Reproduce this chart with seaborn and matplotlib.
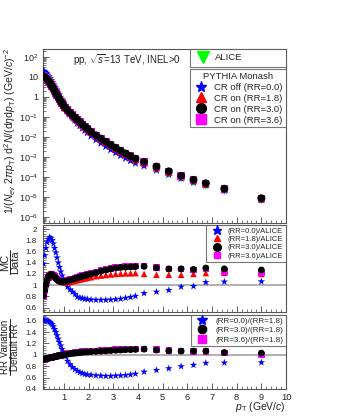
import math
import pandas as pd
import seaborn as sns
import matplotlib.pyplot as plt
from matplotlib.lines import Line2D
from matplotlib.ticker import MultipleLocator, AutoMinorLocator, LogLocator, NullFormatter, FuncFormatter

# pT bin centres (GeV/c)
pt = [0.175, 0.225, 0.275, 0.325, 0.375, 0.425, 0.475, 0.525, 0.575, 0.625,
      0.675, 0.725, 0.775, 0.825, 0.875, 0.925, 0.975,
      1.05, 1.15, 1.25, 1.35, 1.45, 1.55, 1.65, 1.75, 1.85, 1.95,
      2.1, 2.3, 2.5, 2.7, 2.9, 3.1, 3.3, 3.5, 3.7, 3.9,
      4.25, 4.75, 5.25, 5.75, 6.25, 6.75, 7.5, 9.0]

# ALICE invariant yield
alice = [13.5, 10.9, 8.7, 6.9, 5.5, 4.4, 3.5, 2.75, 2.2, 1.74,
         1.38, 1.10, 0.88, 0.70, 0.56, 0.45, 0.36,
         0.27, 0.20, 0.148, 0.110, 0.082, 0.062, 0.047, 0.036, 0.028, 0.0218,
         0.0150, 0.0098, 0.0066, 0.0045, 0.0031, 0.00218, 0.00155, 0.00112, 0.00082, 0.00061,
         0.00042, 0.00025, 0.000148, 0.000088, 0.000056, 0.000037, 0.000020, 0.0000068]

# MC / ALICE
r_rr00 = [1.38, 1.53, 1.66, 1.76, 1.82, 1.85, 1.84, 1.80, 1.74, 1.66,
          1.58, 1.49, 1.40, 1.32, 1.24, 1.17, 1.11,
          1.04, 0.97, 0.92, 0.88, 0.84, 0.79, 0.775, 0.765, 0.755, 0.75,
          0.74, 0.735, 0.735, 0.735, 0.74, 0.745, 0.755, 0.77, 0.785, 0.805,
          0.855, 0.88, 0.91, 0.97, 0.98, 1.05, 1.06, 1.065]
r_rr18 = [0.80, 0.90, 1.00, 1.08, 1.15, 1.19, 1.21, 1.21, 1.19, 1.17,
          1.14, 1.12, 1.10, 1.08, 1.07, 1.06, 1.055,
          1.05, 1.055, 1.06, 1.07, 1.08, 1.09, 1.10, 1.11, 1.12, 1.13,
          1.14, 1.16, 1.17, 1.18, 1.19, 1.20, 1.205, 1.21, 1.21, 1.215,
          1.20, 1.185, 1.185, 1.185, 1.20, 1.215, 1.22, 1.20]
r_rr30 = [0.81, 0.91, 1.01, 1.09, 1.15, 1.18, 1.19, 1.185, 1.17, 1.15,
          1.12, 1.10, 1.085, 1.07, 1.065, 1.06, 1.06,
          1.065, 1.075, 1.09, 1.10, 1.12, 1.13, 1.145, 1.16, 1.17, 1.185,
          1.20, 1.22, 1.25, 1.27, 1.29, 1.305, 1.315, 1.32, 1.325, 1.33,
          1.335, 1.31, 1.29, 1.29, 1.28, 1.305, 1.29, 1.27]
r_rr36 = [0.80, 0.90, 1.00, 1.08, 1.14, 1.18, 1.19, 1.19, 1.175, 1.155,
          1.13, 1.11, 1.095, 1.08, 1.075, 1.07, 1.07,
          1.075, 1.085, 1.10, 1.11, 1.13, 1.14, 1.155, 1.17, 1.18, 1.195,
          1.21, 1.23, 1.26, 1.28, 1.30, 1.315, 1.325, 1.33, 1.335, 1.34,
          1.34, 1.315, 1.29, 1.29, 1.27, 1.29, 1.24, 1.22]

# RR variation / default RR (=1.8)
v_rr00 = [1.60, 1.61, 1.61, 1.60, 1.59, 1.575, 1.56, 1.535, 1.50, 1.45,
          1.40, 1.34, 1.28, 1.22, 1.16, 1.10, 1.04,
          0.97, 0.89, 0.83, 0.78, 0.745, 0.715, 0.69, 0.675, 0.66, 0.65,
          0.645, 0.635, 0.63, 0.625, 0.625, 0.63, 0.635, 0.64, 0.65, 0.665,
          0.70, 0.73, 0.76, 0.795, 0.82, 0.855, 0.86, 0.865]
v_rr30 = [0.92, 0.925, 0.93, 0.935, 0.94, 0.945, 0.95, 0.955, 0.96, 0.965,
          0.97, 0.975, 0.98, 0.985, 0.99, 0.995, 1.00,
          1.005, 1.01, 1.02, 1.025, 1.03, 1.035, 1.04, 1.045, 1.05, 1.05,
          1.055, 1.06, 1.065, 1.07, 1.075, 1.08, 1.085, 1.09, 1.09, 1.095,
          1.10, 1.085, 1.07, 1.065, 1.065, 1.065, 1.04, 1.03]
v_rr36 = [0.91, 0.915, 0.925, 0.93, 0.94, 0.945, 0.95, 0.955, 0.96, 0.965,
          0.97, 0.975, 0.98, 0.985, 0.99, 0.995, 1.005,
          1.015, 1.02, 1.03, 1.035, 1.04, 1.045, 1.05, 1.055, 1.06, 1.06,
          1.065, 1.07, 1.075, 1.08, 1.085, 1.09, 1.095, 1.10, 1.10, 1.105,
          1.105, 1.09, 1.075, 1.065, 1.06, 1.06, 1.03, 0.995]

df = pd.DataFrame({'pt': pt, 'alice': alice,
                   'r00': r_rr00, 'r18': r_rr18, 'r30': r_rr30, 'r36': r_rr36,
                   'v00': v_rr00, 'v30': v_rr30, 'v36': v_rr36})
df['mc00'] = df['alice'] * df['r00']
df['mc18'] = df['alice'] * df['r18']
df['mc30'] = df['alice'] * df['r30']
df['mc36'] = df['alice'] * df['r36']

sns.set_style('ticks')
plt.rcParams['font.family'] = ['Liberation Sans', 'DejaVu Sans']
plt.rcParams['mathtext.fontset'] = 'custom'
plt.rcParams['mathtext.rm'] = 'Liberation Sans'
plt.rcParams['mathtext.it'] = 'Liberation Sans:italic'
plt.rcParams['mathtext.sf'] = 'Liberation Sans'

GREEN, BLUE, RED, BLACK, MAG = '#00ff00', '#0000ff', '#ff0000', '#000000', '#ff00ff'
TXT = '#222222'

fig = plt.figure(figsize=(3.43, 4.20), dpi=100)
ax1 = fig.add_axes([0.125, 0.469, 0.709, 0.414])
ax2 = fig.add_axes([0.125, 0.257, 0.709, 0.207])
ax3 = fig.add_axes([0.125, 0.074, 0.709, 0.176])


def sc(ax, y, marker, color, s):
    sns.scatterplot(data=df, x='pt', y=y, ax=ax, marker=marker, color=color,
                    s=s, edgecolor='none', linewidth=0, legend=False, zorder=3)


# spectra
sc(ax1, 'alice', 'v', GREEN, 38)
sc(ax1, 'mc00', '*', BLUE, 45)
sc(ax1, 'mc18', '^', RED, 30)
sc(ax1, 'mc36', 's', MAG, 28)
sc(ax1, 'mc30', 'o', BLACK, 32)
ax1.set_yscale('log')
ax1.set_ylim(5e-7, 240)

# MC / data
ax2.axhline(1, color='#aaaaaa', lw=1.3, zorder=1)
sc(ax2, 'r00', '*', BLUE, 32)
sc(ax2, 'r18', '^', RED, 22)
sc(ax2, 'r36', 's', MAG, 22)
sc(ax2, 'r30', 'o', BLACK, 24)
ax2.set_ylim(0.52, 2.07)

# RR variation
ax3.axhline(1, color='#aaaaaa', lw=1.3, zorder=1)
sc(ax3, 'v00', '*', BLUE, 32)
sc(ax3, 'v36', 's', MAG, 22)
sc(ax3, 'v30', 'o', BLACK, 24)
ax3.set_ylim(0.4, 1.7)


def logfmt(v, _):
    e = int(round(math.log10(v)))
    if e == 0:
        return '1'
    if e == 1:
        return '10'
    return r'$10^{%d}$' % e


ax1.yaxis.set_major_locator(LogLocator(base=10, numticks=20))
ax1.yaxis.set_minor_locator(LogLocator(base=10, subs=range(2, 10), numticks=20))
ax1.yaxis.set_minor_formatter(NullFormatter())
ax1.yaxis.set_major_formatter(FuncFormatter(logfmt))

for ax in (ax2, ax3):
    ax.yaxis.set_major_locator(MultipleLocator(0.2))
    ax.yaxis.set_minor_locator(AutoMinorLocator(5))
    ax.yaxis.set_major_formatter(FuncFormatter(lambda v, _: '%g' % round(v, 1)))

for ax in (ax1, ax2, ax3):
    ax.set_xlim(0.15, 10)
    ax.xaxis.set_major_locator(MultipleLocator(1))
    ax.xaxis.set_minor_locator(MultipleLocator(0.2))
    ax.set_xlabel('')
    ax.set_ylabel('')
    ax.tick_params(which='both', direction='in', top=False, right=False,
                   colors='#444444', labelcolor=TXT)
    ax.tick_params(which='major', length=4, width=0.6)
    ax.tick_params(which='minor', length=2, width=0.5)
    for sp in ax.spines.values():
        sp.set_color('#555555')
        sp.set_linewidth(0.8)
ax1.tick_params(axis='y', labelsize=6.5, pad=3.5)
ax2.tick_params(axis='y', labelsize=5.8, pad=4.5)
ax3.tick_params(axis='y', labelsize=5.8, pad=4.5)
ax3.tick_params(axis='x', labelsize=6.7, pad=3)
for ax in (ax1, ax2):
    ax.tick_params(labelbottom=False)
ax3.xaxis.set_major_formatter(FuncFormatter(lambda v, _: '%d' % v if v >= 1 else ''))


# legends
def mk(marker, color, ms):
    return Line2D([], [], marker=marker, color=color, linestyle='none', markersize=ms)


def frame(lg):
    lg.get_frame().set_edgecolor('#555555')
    lg.get_frame().set_linewidth(0.8)


leg_kw = dict(mode='expand', borderaxespad=0, frameon=True, fancybox=False)

lg1 = ax1.legend([mk('v', GREEN, 8)], ['ALICE'], loc='upper left',
                 bbox_to_anchor=(0.605, 0.0, 0.395, 1.0), fontsize=6.8,
                 handlelength=1.8, handletextpad=0.4, borderpad=0.45, **leg_kw)
frame(lg1)
ax1.add_artist(lg1)

lg2 = ax1.legend([mk('*', BLUE, 8), mk('^', RED, 6.5), mk('o', BLACK, 7), mk('s', MAG, 6.5)],
                 ['CR off (RR=0.0)', 'CR on (RR=1.8)', 'CR on (RR=3.0)', 'CR on (RR=3.6)'],
                 loc='upper left', bbox_to_anchor=(0.605, 0.0, 0.395, 0.885),
                 title='PYTHIA Monash', title_fontsize=6.8, fontsize=6.8,
                 handlelength=1.8, handletextpad=0.4, borderpad=0.3,
                 labelspacing=0.2, **leg_kw)
frame(lg2)

lg3 = ax2.legend([mk('*', BLUE, 6.5), mk('^', RED, 5), mk('o', BLACK, 5.5), mk('s', MAG, 5)],
                 ['(RR=0.0)/ALICE', '(RR=1.8)/ALICE', '(RR=3.0)/ALICE', '(RR=3.6)/ALICE'],
                 loc='upper left', bbox_to_anchor=(0.671, 0.0, 0.329, 1.0), fontsize=5.5,
                 handlelength=2.3, handletextpad=0.2, borderpad=0.3,
                 labelspacing=0.12, **leg_kw)
frame(lg3)

lg4 = ax3.legend([mk('*', BLUE, 7), mk('o', BLACK, 6), mk('s', MAG, 5.5)],
                 ['(RR=0.0)/(RR=1.8)', '(RR=3.0)/(RR=1.8)', '(RR=3.6)/(RR=1.8)'],
                 loc='upper left', bbox_to_anchor=(0.609, 0.0, 0.391, 1.0), fontsize=5.8,
                 handlelength=2.15, handletextpad=0.55, borderpad=0.3,
                 labelspacing=0.2, **leg_kw)
frame(lg4)

# texts
ax1.text(0.125, 0.935, r'pp, $\sqrt{s}$=13 TeV, INEL>0', transform=ax1.transAxes,
         fontsize=7, va='center', ha='left', color=TXT)
fig.text(0.028, 0.688,
         r'$1/(N_{ev}\ 2\pi p_{\rm T})\ {\rm d}^{2}N/({\rm d}\eta {\rm d}p_{\rm T})\ ({\rm GeV}/c)^{-2}$',
         rotation=90, fontsize=7.6, ha='center', va='center', color=TXT)

# fraction-style y titles for the ratio panels
fig.text(0.016, 0.376, 'MC', rotation=90, fontsize=8, ha='center', va='center', color=TXT)
fig.text(0.044, 0.376, 'Data', rotation=90, fontsize=8, ha='center', va='center', color=TXT)
fig.add_artist(Line2D([0.030, 0.030], [0.347, 0.405], transform=fig.transFigure,
                      color=TXT, lw=0.7))
fig.text(0.016, 0.174, 'RR Variation', rotation=90, fontsize=7, ha='center', va='center',
         color=TXT)
fig.text(0.044, 0.174, 'Default RR', rotation=90, fontsize=7, ha='center', va='center',
         color=TXT)
fig.add_artist(Line2D([0.030, 0.030], [0.107, 0.241], transform=fig.transFigure,
                      color=TXT, lw=0.7))

fig.text(0.834, 0.031, r'$p_{\rm T}$ (GeV/$c$)', fontsize=7.5, ha='right', va='center',
         color=TXT)

fig.savefig('out.png', dpi=100)
